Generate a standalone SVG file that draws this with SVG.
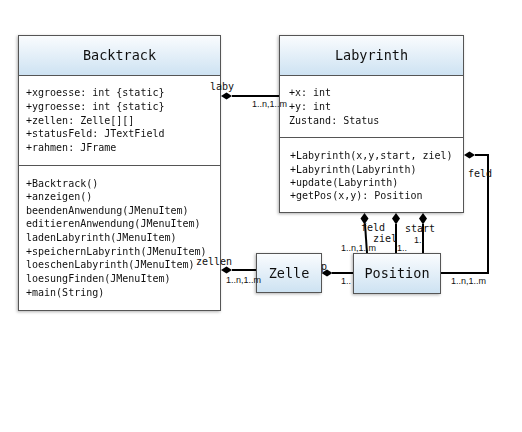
<svg xmlns="http://www.w3.org/2000/svg" width="522" height="432" viewBox="0 0 522 432">
<style>
.box{fill:#ffffff;stroke:#555;stroke-width:1}
.hdr{fill:url(#g);stroke:#555;stroke-width:1}
.div{stroke:#555;stroke-width:1}
.t{font-family:"DejaVu Sans Mono","Liberation Mono",monospace;font-size:10px;fill:#111}
.ttl{font-family:"DejaVu Sans Mono","Liberation Mono",monospace;font-size:13.5px;fill:#111;text-anchor:middle}
.lbl{font-family:"DejaVu Sans Mono","Liberation Mono",monospace;font-size:10px;fill:#111}
.m{font-family:"Liberation Sans",Arial,sans-serif;font-size:9px;fill:#111}
.c{fill:none;stroke:#000;stroke-width:2}
.d{fill:#000}
</style>
<defs>
<linearGradient id="g" x1="0" y1="0" x2="0" y2="1">
<stop offset="0" stop-color="#fafcfe"/>
<stop offset="1" stop-color="#cde2f2"/>
</linearGradient>
<filter id="sh" x="-10%" y="-10%" width="120%" height="120%">
<feDropShadow dx="-1" dy="1" stdDeviation="1.5" flood-color="#000" flood-opacity="0.3"/>
</filter>
</defs>

<g id="Backtrack" filter="url(#sh)">
<rect class="box" x="18.5" y="35.5" width="202" height="275"/>
<rect class="hdr" x="18.5" y="35.5" width="202" height="40"/>
<line class="div" x1="18.5" y1="165.5" x2="220.5" y2="165.5"/>
<text class="ttl" x="119.5" y="60">Backtrack</text>
<text class="t" x="26" y="96">+xgroesse: int {static}</text>
<text class="t" x="26" y="110">+ygroesse: int {static}</text>
<text class="t" x="26" y="123.5">+zellen: Zelle[][]</text>
<text class="t" x="26" y="137">+statusFeld: JTextField</text>
<text class="t" x="26" y="151">+rahmen: JFrame</text>
<text class="t" x="26" y="187">+Backtrack()</text>
<text class="t" x="26" y="200">+anzeigen()</text>
<text class="t" x="26" y="213.5">beendenAnwendung(JMenuItem)</text>
<text class="t" x="26" y="227">editierenAnwendung(JMenuItem)</text>
<text class="t" x="26" y="241">ladenLabyrinth(JMenuItem)</text>
<text class="t" x="26" y="254.5">+speichernLabyrinth(JMenuItem)</text>
<text class="t" x="26" y="268">loeschenLabyrinth(JMenuItem)</text>
<text class="t" x="26" y="281.5">loesungFinden(JMenuItem)</text>
<text class="t" x="26" y="295.5">+main(String)</text>
</g>

<g id="Labyrinth" filter="url(#sh)">
<rect class="box" x="279.5" y="35.5" width="184" height="177"/>
<rect class="hdr" x="279.5" y="35.5" width="184" height="40"/>
<line class="div" x1="279.5" y1="137.5" x2="463.5" y2="137.5"/>
<text class="ttl" x="371.5" y="60">Labyrinth</text>
<text class="t" x="289" y="96">+x: int</text>
<text class="t" x="289" y="110">+y: int</text>
<text class="t" x="289" y="123.5">Zustand: Status</text>
<text class="t" x="290" y="159">+Labyrinth(x,y,start, ziel)</text>
<text class="t" x="290" y="172.5">+Labyrinth(Labyrinth)</text>
<text class="t" x="290" y="185.5">+update(Labyrinth)</text>
<text class="t" x="290" y="199">+getPos(x,y): Position</text>
</g>

<g id="Zelle" filter="url(#sh)">
<rect class="hdr" x="256.5" y="253.5" width="65" height="39"/>
<text class="ttl" x="289" y="278">Zelle</text>
</g>

<g id="Position" filter="url(#sh)">
<rect class="hdr" x="353.5" y="253.5" width="87" height="40"/>
<text class="ttl" x="397" y="278">Position</text>
</g>

<g id="connectors">
<line class="c" x1="232" y1="96" x2="279" y2="96"/>
<path class="d" d="M221,96 L226.5,92.5 L232,96 L226.5,99.5 Z"/>
<text class="lbl" x="210" y="90">laby</text>
<text class="m" x="252" y="107">1..n,1..m</text>

<line class="c" x1="232" y1="270" x2="256" y2="270"/>
<path class="d" d="M221,270 L226.5,266.5 L232,270 L226.5,273.5 Z"/>
<text class="lbl" x="196" y="265">zellen</text>
<text class="m" x="226" y="283">1..n,1..m</text>

<line class="c" x1="332" y1="273" x2="353" y2="273"/>
<path class="d" d="M321.5,273 L327,269.5 L332.5,273 L327,276.5 Z"/>
<text class="lbl" x="321" y="270">p</text>
<text class="m" x="341" y="284">1..</text>

<line class="c" x1="365" y1="224" x2="367" y2="253"/>
<path class="d" d="M364.5,213 L368.5,218.5 L364.5,224.5 L360.5,218.5 Z"/>
<line class="c" x1="396" y1="224" x2="396" y2="253"/>
<path class="d" d="M396,213 L400,218.5 L396,224.5 L392,218.5 Z"/>
<line class="c" x1="423" y1="224" x2="423" y2="253"/>
<path class="d" d="M423,213 L427,218.5 L423,224.5 L419,218.5 Z"/>
<text class="lbl" x="361" y="231">feld</text>
<text class="lbl" x="373" y="241.5">ziel</text>
<text class="lbl" x="405" y="232">start</text>
<text class="m" x="414" y="243">1..</text>
<text class="m" x="341" y="251">1..n,1..m</text>
<text class="m" x="397" y="251">1..</text>

<path class="c" d="M441,273 H488 V155 H475"/>
<path class="d" d="M464,155 L469.5,151.5 L475,155 L469.5,158.5 Z"/>
<text class="lbl" x="468" y="177">feld</text>
<text class="m" x="451" y="284">1..n,1..m</text>
</g>
</svg>
